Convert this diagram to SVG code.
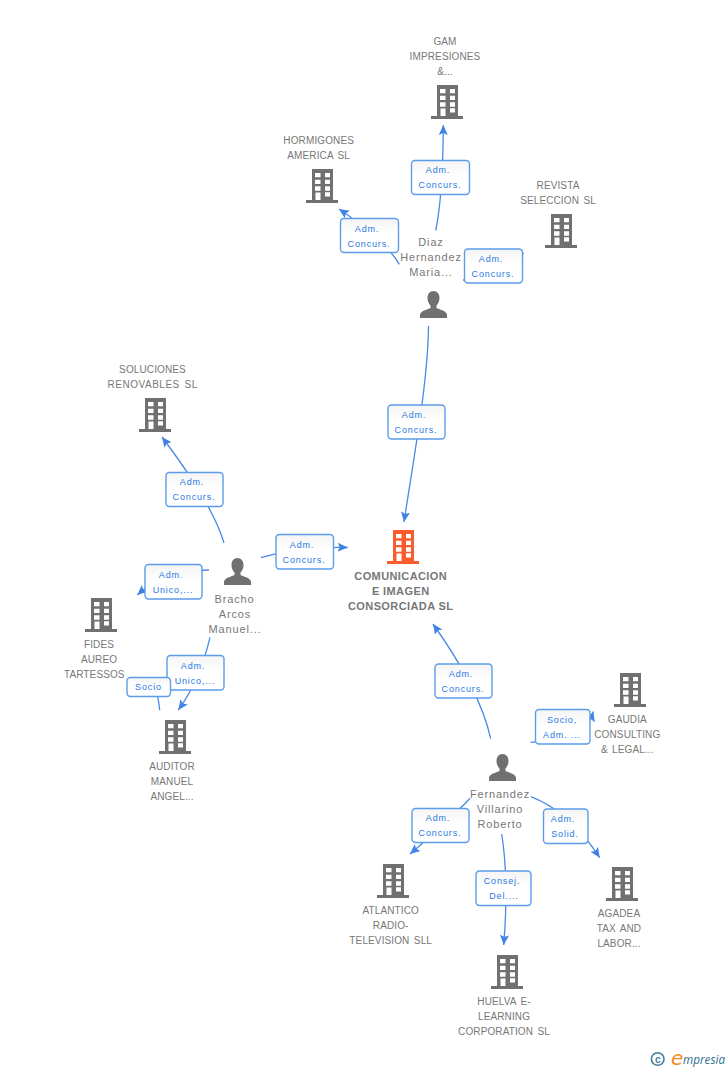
<svg xmlns="http://www.w3.org/2000/svg" width="728" height="1070" viewBox="0 0 728 1070">
<style>
text{font-family:"Liberation Sans",Arial,sans-serif;text-anchor:middle}
.n{font-size:10px;fill:#777;letter-spacing:.12px;word-spacing:1.5px}
.p{font-size:11px;fill:#777;letter-spacing:.85px}
.c{font-size:11px;font-weight:bold;fill:#777;letter-spacing:.4px}
.l{font-size:9px;fill:#2a78e2;letter-spacing:.85px}
.b{fill:url(#g);stroke:#5c9cea;stroke-width:1.4}
.e{fill:none;stroke:#4a8ae6;stroke-width:1.3;marker-end:url(#a)}
.f{fill:none;stroke:#4a8ae6;stroke-width:1.3}
.bd{fill:#707070}
.or{fill:#fb5c2e}
</style>
<defs>
<linearGradient id="g" x1="0" y1="0" x2="0" y2="1"><stop offset="0" stop-color="#f4f4f4"/><stop offset=".45" stop-color="#fff"/><stop offset="1" stop-color="#fff"/></linearGradient>
<marker id="a" markerUnits="userSpaceOnUse" markerWidth="12" markerHeight="12" refX="10" refY="5" orient="auto"><path d="M0 0.500L10 5L0 9.500L2 5Z" fill="#3f83e4"/></marker>
<symbol id="bu" viewBox="0 0 32 34" width="32" height="34" overflow="visible">
<path d="M6 0H27V31H32V34H0V31H6Z"/>
<path fill="#fff" d="M9 4H14.500V8.300H9ZM19 4H24V8.300H19ZM9 10.700H14.500V15H9ZM19 10.700H24V15H19ZM9 17.300H14.500V21.700H9ZM19 17.300H24V21.700H19ZM9.500 23.500H14.500V31H9.500ZM19 23.300H24V27.500H19Z"/>
</symbol>
<symbol id="pe" viewBox="0 0 27 27" width="27" height="27" overflow="visible">
<path fill="#707070" d="M13.500 0C9.700 0 7.500 3 7.500 7C7.500 10.500 9 13 10.500 14.500V17C8 18.500 1 19.500 0 23.500V27H27V23.500C26 19.500 19 18.500 16.500 17V14.500C18 13 19.500 10.500 19.500 7C19.500 3 17.300 0 13.500 0Z"/>
</symbol>
</defs>
<rect width="728" height="1070" fill="#fff"/>

<g id="connectors">
<path class="e" d="M435.700 230.500Q443 195 443.300 125"/>
<path class="e" d="M399.300 264.300Q385 240 339 209"/>
<path class="f" d="M463 280Q500 285 523.500 253"/>
<path class="e" d="M428.500 326C428 380 415 450 404 522"/>
<path class="e" d="M224 543Q213 505 162 437"/>
<path class="e" d="M209 570Q165 570 137.300 595"/>
<path class="e" d="M261 557.700Q300 546 347.700 547.500"/>
<path class="e" d="M210 637.300Q200 680 178.300 710"/>
<path class="f" d="M159.700 710.300Q158 690 150 677"/>
<path class="e" d="M490.700 738.700Q480 690 433 624"/>
<path class="e" d="M530.700 742.300Q585 740 593.300 711.500"/>
<path class="e" d="M470 798.300Q450 820 410 854"/>
<path class="e" d="M531 796.700Q570 812 599.700 857.700"/>
<path class="e" d="M501.700 834Q509 880 503.700 945"/>

<g id="e1"><rect class="b" x="411.500" y="160.500" width="58" height="34" rx="3.500"/><text class="l" x="438" y="173">Adm.</text><text class="l" x="440" y="188">Concurs.</text></g>
<g id="e2"><rect class="b" x="340.500" y="218.500" width="58" height="34" rx="3.500"/><text class="l" x="367" y="232">Adm.</text><text class="l" x="369" y="247">Concurs.</text></g>
<g id="e3"><rect class="b" x="464.500" y="249" width="58" height="34" rx="3.500"/><text class="l" x="491" y="262">Adm.</text><text class="l" x="493" y="277">Concurs.</text></g>
<g id="e4"><rect class="b" x="388" y="405" width="57" height="34" rx="3.500"/><text class="l" x="414" y="418">Adm.</text><text class="l" x="416" y="433">Concurs.</text></g>
<g id="e5"><rect class="b" x="166" y="472.500" width="57" height="34" rx="3.500"/><text class="l" x="192" y="485">Adm.</text><text class="l" x="194" y="500">Concurs.</text></g>
<g id="e6"><rect class="b" x="145" y="564.500" width="57" height="34.500" rx="3.500"/><text class="l" x="171" y="578">Adm.</text><text class="l" x="173" y="593">Unico,...</text></g>
<g id="e7"><rect class="b" x="276" y="534.500" width="57.500" height="34.500" rx="3.500"/><text class="l" x="302" y="548">Adm.</text><text class="l" x="304" y="563">Concurs.</text></g>
<g id="e8"><rect class="b" x="167" y="655.500" width="57" height="34.500" rx="3.500"/><text class="l" x="193" y="669">Adm.</text><text class="l" x="195" y="684">Unico,...</text></g>
<g id="e9"><rect class="b" x="127" y="677.500" width="43.500" height="19" rx="3.500"/><text class="l" x="148.500" y="690">Socio</text></g>
<g id="e10"><rect class="b" x="435" y="664" width="57" height="34" rx="3.500"/><text class="l" x="461" y="677">Adm.</text><text class="l" x="463" y="692">Concurs.</text></g>
<g id="e11"><rect class="b" x="535.500" y="709.500" width="54.500" height="34.500" rx="3.500"/><text class="l" x="562" y="723">Socio,</text><text class="l" x="562" y="738">Adm. ...</text></g>
<g id="e12"><rect class="b" x="412" y="808.500" width="57" height="34" rx="3.500"/><text class="l" x="438" y="821">Adm.</text><text class="l" x="440" y="836">Concurs.</text></g>
<g id="e13"><rect class="b" x="543.500" y="809" width="44.500" height="34.500" rx="3.500"/><text class="l" x="563" y="822">Adm.</text><text class="l" x="565" y="837">Solid.</text></g>
<g id="e14"><rect class="b" x="476" y="871" width="55" height="34.500" rx="3.500"/><text class="l" x="502" y="884">Consej.</text><text class="l" x="504" y="899">Del....</text></g>
</g>

<g id="central"><use href="#bu" x="387" y="530" class="or"/><text class="c" x="400.700" y="580">COMUNICACION</text><text class="c" x="400.700" y="595">E IMAGEN</text><text class="c" x="400.700" y="610">CONSORCIADA SL</text></g>
<g id="gam"><text class="n" x="445" y="45">GAM</text><text class="n" x="445" y="60">IMPRESIONES</text><text class="n" x="445" y="75">&amp;...</text><use href="#bu" x="431" y="85" class="bd"/></g>
<g id="hormigones"><text class="n" x="318.700" y="144">HORMIGONES</text><text class="n" x="318.700" y="159">AMERICA SL</text><use href="#bu" x="306" y="169" class="bd"/></g>
<g id="revista"><text class="n" x="558" y="189">REVISTA</text><text class="n" x="558" y="204">SELECCION SL</text><use href="#bu" x="545" y="214" class="bd"/></g>
<g id="diaz"><text class="p" x="431" y="246">Diaz</text><text class="p" x="431" y="261">Hernandez</text><text class="p" x="431" y="276">Maria...</text><use href="#pe" x="420" y="291"/></g>
<g id="soluciones"><text class="n" x="152.500" y="373">SOLUCIONES</text><text class="n" x="152.500" y="388" textLength="90">RENOVABLES SL</text><use href="#bu" x="139" y="398" class="bd"/></g>
<g id="fides"><use href="#bu" x="85" y="598" class="bd"/><text class="n" x="99" y="648">FIDES</text><text class="n" x="99" y="663">AUREO</text><text class="n" x="94.300" y="678">TARTESSOS</text></g>
<g id="auditor"><use href="#bu" x="159" y="720" class="bd"/><text class="n" x="172" y="770">AUDITOR</text><text class="n" x="172" y="785">MANUEL</text><text class="n" x="172" y="800">ANGEL...</text></g>
<g id="bracho"><use href="#pe" x="224" y="558"/><text class="p" x="234.500" y="603">Bracho</text><text class="p" x="235" y="618">Arcos</text><text class="p" x="235" y="633">Manuel...</text></g>
<g id="fernandez"><use href="#pe" x="489" y="754"/><text class="p" x="500" y="798">Fernandez</text><text class="p" x="500" y="813">Villarino</text><text class="p" x="500" y="828">Roberto</text></g>
<g id="gaudia"><use href="#bu" x="614" y="673" class="bd"/><text class="n" x="627.300" y="723">GAUDIA</text><text class="n" x="627.300" y="738">CONSULTING</text><text class="n" x="627.300" y="753">&amp; LEGAL...</text></g>
<g id="atlantico"><use href="#bu" x="377" y="864" class="bd"/><text class="n" x="390.700" y="914">ATLANTICO</text><text class="n" x="390.700" y="929">RADIO-</text><text class="n" x="390.700" y="944">TELEVISION SLL</text></g>
<g id="agadea"><use href="#bu" x="606" y="867" class="bd"/><text class="n" x="619" y="917">AGADEA</text><text class="n" x="619" y="932">TAX AND</text><text class="n" x="619" y="947">LABOR...</text></g>
<g id="huelva"><use href="#bu" x="491" y="955" class="bd"/><text class="n" x="504" y="1005">HUELVA E-</text><text class="n" x="504" y="1020">LEARNING</text><text class="n" x="504" y="1035">CORPORATION SL</text></g>

<g id="logo"><circle cx="657.700" cy="1059" r="6.300" fill="none" stroke="#3f7f9c" stroke-width="1.600"/><text x="657.700" y="1062.500" style="font-size:10px;font-weight:bold;fill:#3f7f9c">c</text><text x="671" y="1064.500" style="font-family:'DejaVu Sans',sans-serif;font-style:italic;text-anchor:start;font-size:20px;fill:#f58a1f">e</text><text x="683" y="1064" style="font-family:'Open Sans',sans-serif;font-style:italic;text-anchor:start;font-size:12px;fill:#2f6f8f" textLength="42" lengthAdjust="spacingAndGlyphs">mpresia</text></g>
</svg>
